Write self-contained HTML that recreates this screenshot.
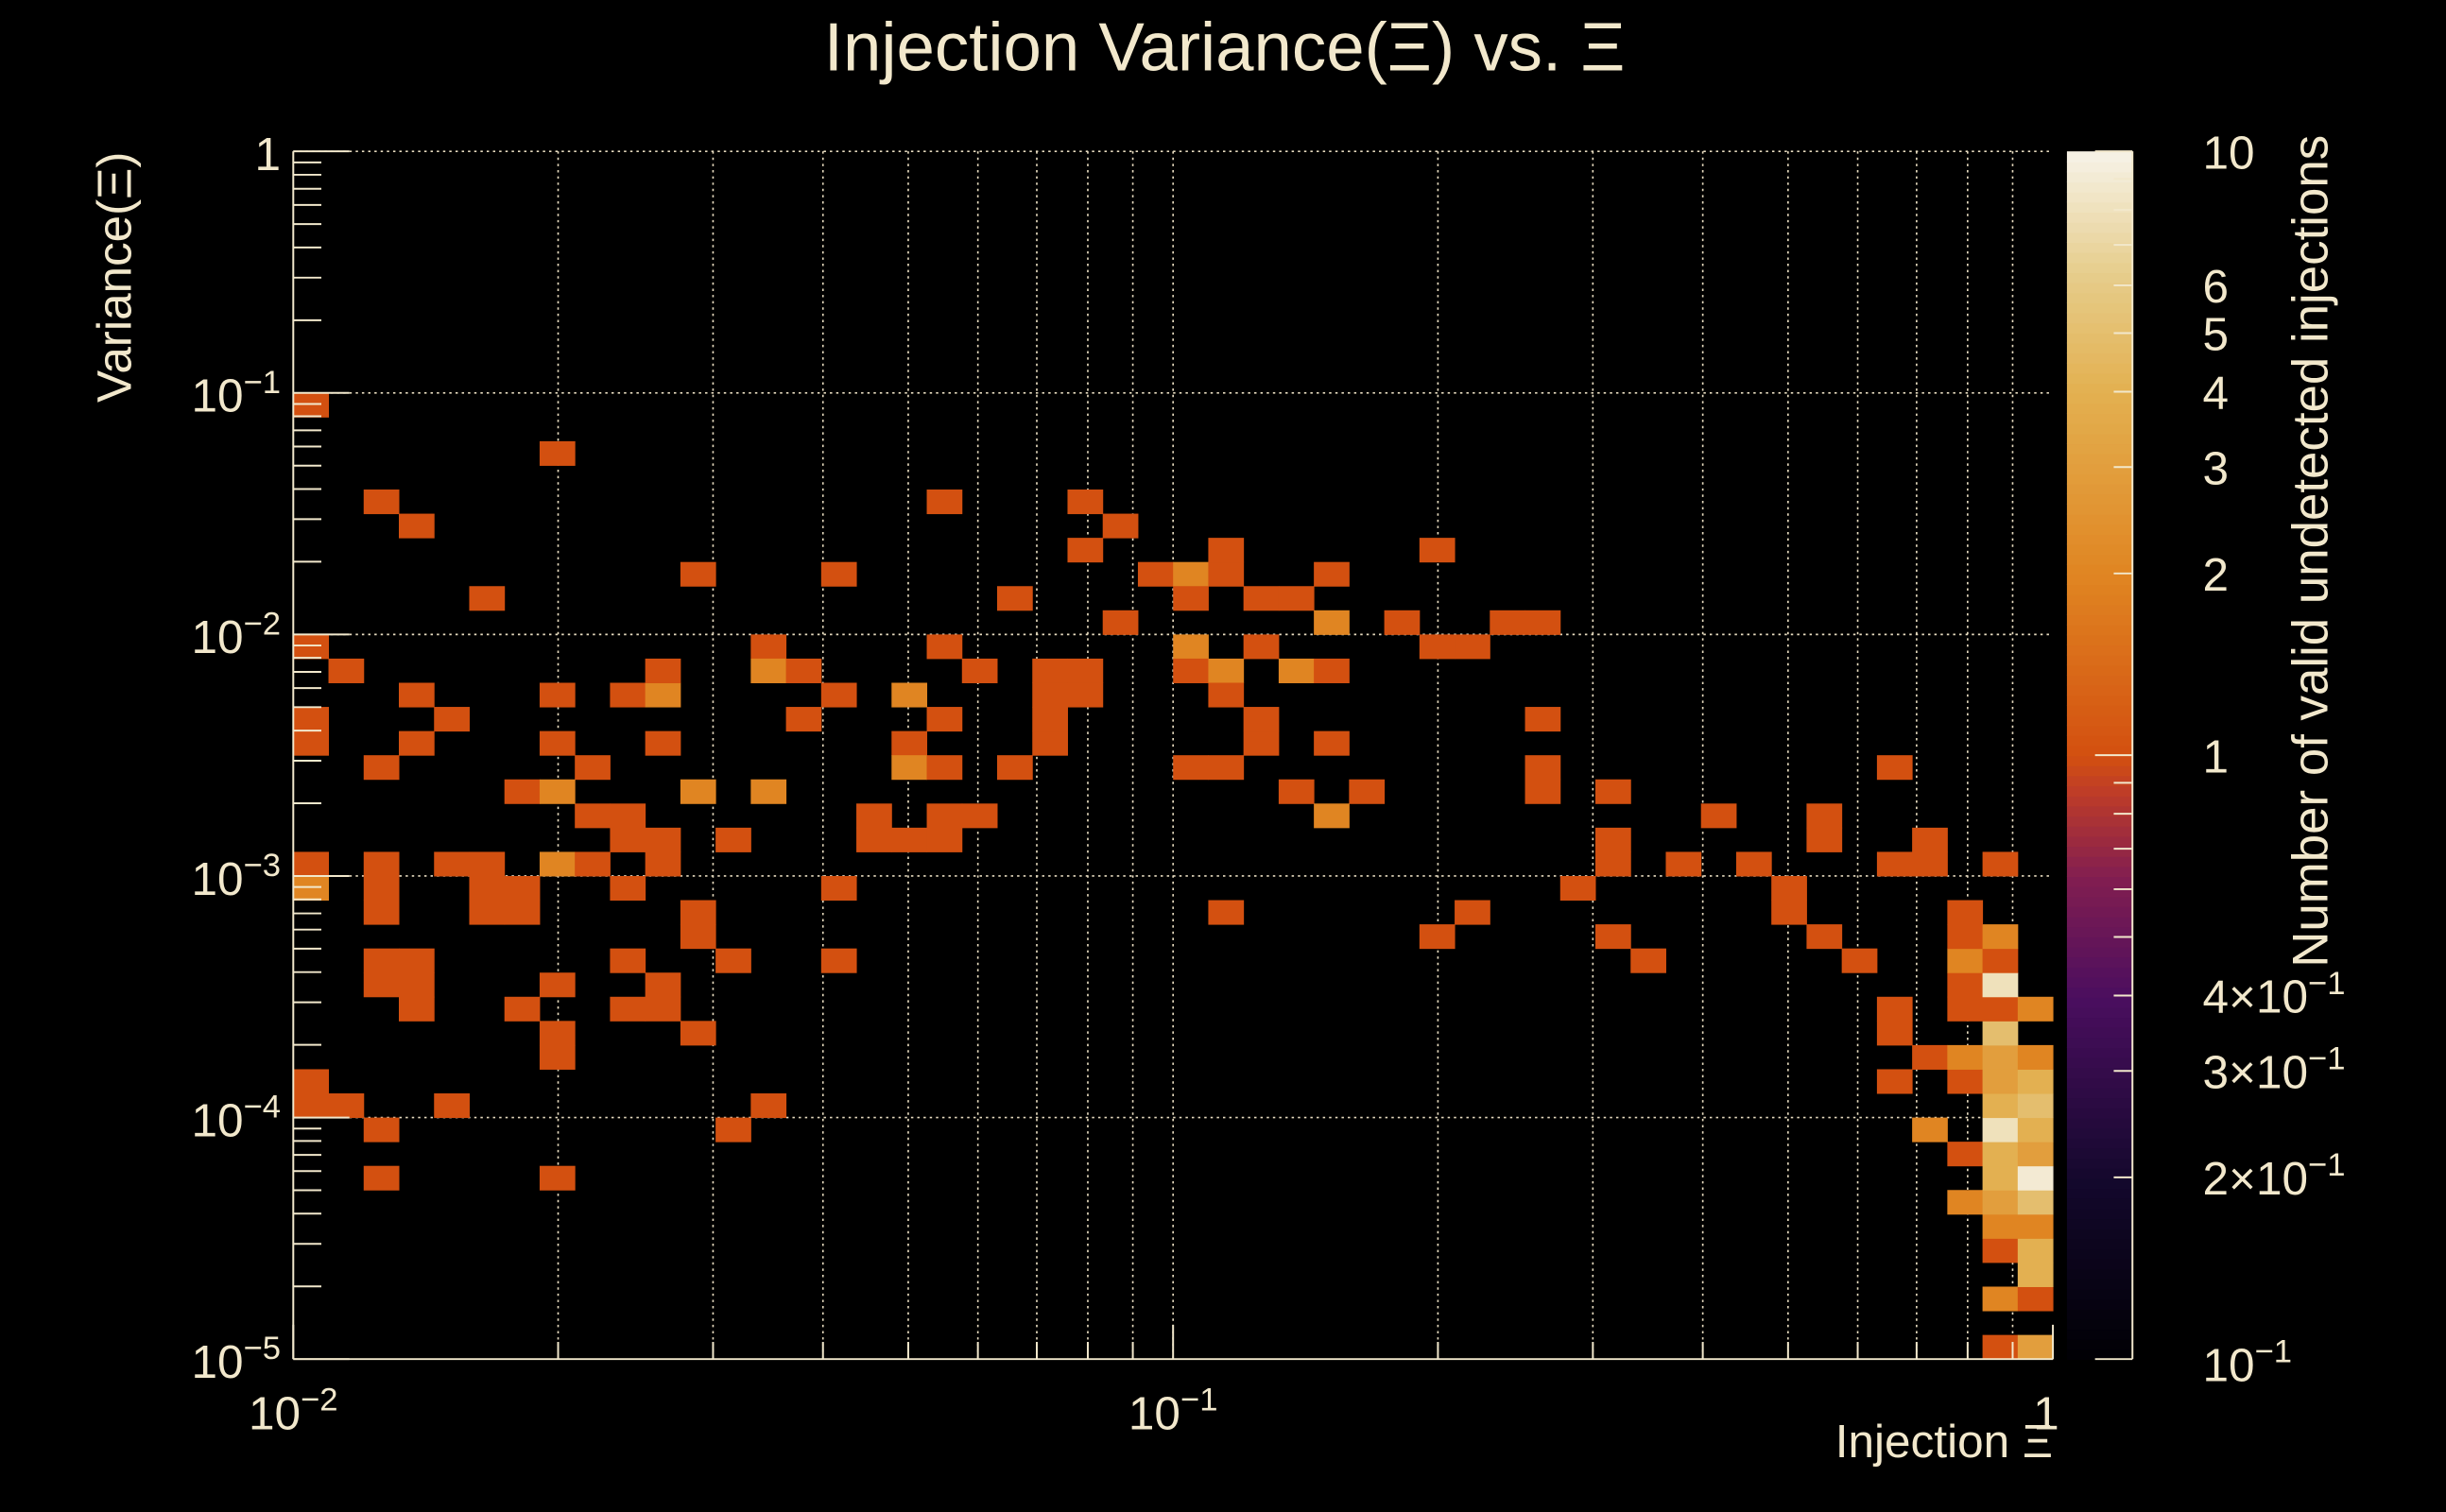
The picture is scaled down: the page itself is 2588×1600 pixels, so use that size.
<!DOCTYPE html>
<html><head><meta charset="utf-8"><style>
html,body{margin:0;padding:0;background:#000;}
svg{display:block;}
text{font-family:"Liberation Sans",sans-serif;fill:#f2e8cc;}
</style></head><body>
<svg id="chart" width="2588" height="1600" viewBox="0 0 1568 969" preserveAspectRatio="none" xmlns="http://www.w3.org/2000/svg">
<rect width="1568" height="969" fill="#000"/>
<text x="785" y="45" text-anchor="middle" font-size="44">Injection Variance(Ξ) vs. Ξ</text>
<g id="grid"></g>
<g id="cells"></g>
<g id="axes"></g>
<g id="cbar"></g>
<text x="1316" y="934" text-anchor="end" font-size="30">Injection Ξ</text>
<text transform="translate(84,258) rotate(-90)" font-size="31">Variance(Ξ)</text>
<text transform="translate(1492,620) rotate(-90)" font-size="32">Number of valid undetected injections</text>
</svg>
<script>
const cellX=[0,7,2,3,5,11,15,18,20,22,23,22,24,25,26,26,25,27,28,29,32,23,29,31,34,35,32,33,0,1,3,7,9,10,10,13,13,14,15,17,18,19,21,21,21,21,22,22,25,25,26,27,28,29,26,
0,0,4,14,18,27,27,35,3,7,10,17,29,
2,8,17,18,20,25,26,35,35,45,
6,7,11,13,28,30,37,
8,9,9,10,10,12,16,16,17,18,18,19,29,37,37,40,43,43,46,46,
0,0,2,2,2,4,5,5,5,6,6,7,8,9,15,39,41,45,48,36,42,42,
26,33,11,11,32,37,43,
2,2,3,3,3,9,12,15,38,
7,10,10,6,9,7,7,11,
0,0,1,2,4,12,13,2,7,
48,49,48,49,49,48,49,48,49,47,48,49,48,49,47,48,49,46,48,49,48,49,45,47,48,49,46,47,48,49,45,48,45,47,48,49,47,48,44,47,48,47,48,47];
const cellY=[39,37,35,34,31,32,32,35,31,35,34,33,32,32,32,33,31,31,31,32,33,30,30,30,30,30,29,29,29,28,27,27,27,27,28,29,28,28,27,27,29,28,25,26,27,28,27,28,29,28,28,29,28,28,27,
25,26,26,26,26,25,26,26,25,25,25,25,25,
24,24,24,24,24,24,24,23,24,24,
23,23,23,23,23,23,23,
22,21,22,20,21,21,21,22,21,21,22,22,22,20,21,22,21,22,20,21,
20,19,18,19,20,20,20,18,19,18,19,20,20,19,19,20,20,20,20,19,18,19,
18,18,17,18,17,17,17,
15,16,15,16,14,16,16,16,16,
15,14,15,14,14,12,13,13,
10,11,10,9,10,9,10,7,7,
0,0,2,2,3,4,4,5,5,6,6,6,7,7,8,8,8,9,9,9,10,10,11,11,11,11,12,12,12,12,13,13,14,14,14,14,15,15,16,16,16,17,17,18];
const cellCount=[1,1,1,1,1,1,1,1,1,1,1,1,1,2,1,1,1,1,1,1,1,1,2,1,1,1,1,1,1,1,1,1,1,2,1,1,2,1,1,2,1,1,1,1,1,1,1,1,2,1,2,1,2,1,1,
1,1,1,1,1,1,1,1,1,1,1,1,1,
1,1,2,1,1,1,1,1,1,1,
1,2,2,2,1,1,1,
1,1,1,1,1,1,1,1,1,1,1,1,2,1,1,1,1,1,1,1,
1,2,1,1,1,1,1,1,1,1,1,2,1,1,1,1,1,1,1,1,1,1,
1,1,1,1,1,1,1,
1,1,1,1,1,1,1,1,1,
1,1,1,1,1,1,1,1,
1,1,1,1,1,1,1,1,1,
1,3,2,1,4,1,4,2,2,2,3,5,4,9,1,4,3,2,8,4,4,5,1,1,3,4,1,2,3,2,1,5,1,1,1,2,1,8,1,2,1,1,2,1];
const xTickExps=[-2,-1,0];
const yTickExps=[-5,-4,-3,-2,-1,0];
const cbarTicks=[0.2,0.3,0.4,1,2,3,4,5,6,10];
const cbarBase=["2×10","3×10","4×10","1","2","3","4","5","6","10"];
const cbarExp=["−1","−1","−1","","","","","","",""];

const NS="http://www.w3.org/2000/svg";
const X0=188,X1=1316,Y0=871,Y1=97;
const xMin=-2,xMax=0,yMin=-5,yMax=0,NXB=50,NYB=50;
function xPos(v){return X0+(Math.log10(v)-xMin)/(xMax-xMin)*(X1-X0);}
function yPos(v){return Y0-(Math.log10(v)-yMin)/(yMax-yMin)*(Y0-Y1);}
function xEdge(i){return Math.pow(10,xMin+i*(xMax-xMin)/NXB);}
function yEdge(i){return Math.pow(10,yMin+i*(yMax-yMin)/NYB);}
const CB0=0.1,CB1=10,CBY0=871,CBY1=97;
function cPos(v){return CBY0-(Math.log10(v)-Math.log10(CB0))/(Math.log10(CB1)-Math.log10(CB0))*(CBY0-CBY1);}
const stops=[[0,[0,0,4]],[0.15,[20,8,45]],[0.3,[75,14,95]],[0.4,[130,30,80]],[0.47,[190,60,40]],[0.5,[211,80,16]],[0.65,[224,133,34]],[0.8,[227,176,80]],[0.9,[230,205,140]],[1,[247,243,232]]];
function color(v){let t=(Math.log10(v)-Math.log10(CB0))/(Math.log10(CB1)-Math.log10(CB0));t=Math.max(0,Math.min(1,t));
for(let i=1;i<stops.length;i++){if(t<=stops[i][0]){const a=stops[i-1],b=stops[i];const f=(t-a[0])/(b[0]-a[0]);const c=a[1].map((x,k)=>Math.round(x+(b[1][k]-x)*f));return `rgb(${c[0]},${c[1]},${c[2]})`;}}return "rgb(247,243,232)";}
function mk(tag,attrs,parent){const e=document.createElementNS(NS,tag);for(const k in attrs)e.setAttribute(k,attrs[k]);parent.appendChild(e);return e;}
const grid=document.getElementById('grid'),cells=document.getElementById('cells'),axes=document.getElementById('axes'),cbar=document.getElementById('cbar');
const gs={stroke:"#e8dcc0","stroke-width":"1","stroke-dasharray":"1.5,2.5"};
for(let e=xMin;e<xMax;e++){for(let m=1;m<10;m++){const v=m*Math.pow(10,e);const x=xPos(v);if(x<=X0+0.5)continue;
const l=mk('line',Object.assign({x1:x,x2:x,y1:Y1,y2:Y0},gs),grid);

}}
for(let e=yMin+1;e<yMax;e++){const y=yPos(Math.pow(10,e));
const l=mk('line',Object.assign({x1:X0,x2:X1,y1:y,y2:y},gs),grid);

}
{const l=mk('line',Object.assign({x1:X0,x2:X1,y1:Y1,y2:Y1},gs),grid);}
for(let i=0;i<cellX.length;i++){const x=xPos(xEdge(cellX[i])),x2=xPos(xEdge(cellX[i]+1)),y=yPos(yEdge(cellY[i]+1)),y2=yPos(yEdge(cellY[i]));
const r=mk('rect',{x:x,y:y,width:x2-x+0.3,height:y2-y+0.3,fill:color(cellCount[i])},cells);

}
const as={stroke:"#f2e8cc","stroke-width":"1.2"};
mk('line',Object.assign({x1:X0,x2:X1,y1:Y0,y2:Y0},as),axes);
mk('line',Object.assign({x1:X0,x2:X0,y1:Y0,y2:Y1},as),axes);
function sup(parent,x,y,base,exp,anchor,fs){const t=mk('text',{x:x,y:y,'font-size':fs,'text-anchor':anchor},parent);


t.appendChild(document.createTextNode(base));if(exp!==null&&exp!==""){const s=mk('tspan',{'font-size':fs*0.7,dy:-fs*0.4},t);s.textContent=exp;}return t;}
function expLabel(e){return e===0?["1",null]:["10","−"+Math.abs(e)];}
for(const e of xTickExps){const x=xPos(Math.pow(10,e));mk('line',Object.assign({x1:x,x2:x,y1:Y0,y2:Y0-22},as),axes);
const [b,p]=expLabel(e);sup(axes,e===0?x+4:x,916,b,p,e===0?"end":"middle",30);}
for(let e=xMin;e<xMax;e++)for(let m=2;m<10;m++){const x=xPos(m*Math.pow(10,e));mk('line',Object.assign({x1:x,x2:x,y1:Y0,y2:Y0-11},as),axes);}
for(const e of yTickExps){const y=yPos(Math.pow(10,e));mk('line',Object.assign({x1:X0,x2:X0+36,y1:y,y2:y},as),axes);
const [b,p]=expLabel(e);sup(axes,180,y+12,b,p,"end",30);}
for(let e=yMin;e<yMax;e++)for(let m=2;m<10;m++){const y=yPos(m*Math.pow(10,e));mk('line',Object.assign({x1:X0,x2:X0+18,y1:y,y2:y},as),axes);}
const CBX=1325,CBW=42,N=120;
for(let i=0;i<N;i++){const v0=Math.pow(10,-1+2*i/N),v1=Math.pow(10,-1+2*(i+1)/N),vm=Math.pow(10,-1+2*(i+0.5)/N);
mk('rect',{x:CBX,y:cPos(v1),width:CBW,height:cPos(v0)-cPos(v1)+0.6,fill:color(vm)},cbar);}
mk('line',Object.assign({x1:CBX+CBW,x2:CBX+CBW,y1:CBY0,y2:CBY1},as),cbar);
const minor=[0.2,0.3,0.4,0.5,0.6,0.7,0.8,0.9,2,3,4,5,6,7,8,9];
for(const v of minor){const y=cPos(v);mk('line',Object.assign({x1:CBX+CBW,x2:CBX+CBW-12,y1:y,y2:y},as),cbar);}
for(const v of [0.1,1,10]){const y=cPos(v);mk('line',Object.assign({x1:CBX+CBW,x2:CBX+CBW-24,y1:y,y2:y},as),cbar);}
{const t=mk('text',{x:1412,y:885,'font-size':30},cbar);t.textContent="10";const s=mk('tspan',{'font-size':21,dy:-12},t);s.textContent="−1";}
for(let i=0;i<cbarTicks.length;i++){const y=cPos(cbarTicks[i]);
const t=sup(cbar,1412,y+11,cbarBase[i],cbarExp[i],"start",30);

}
</script>
</body></html>
